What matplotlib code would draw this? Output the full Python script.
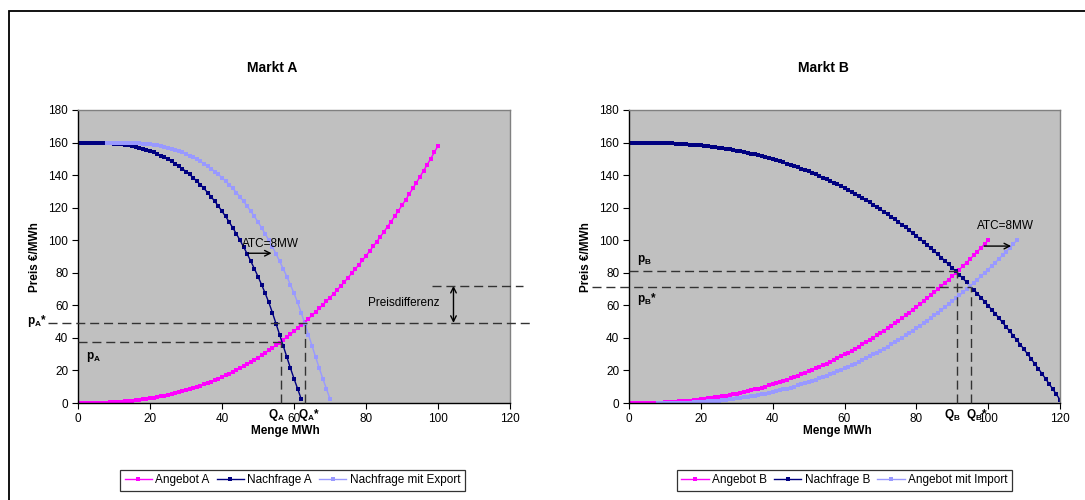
import matplotlib
matplotlib.use('Agg')
import matplotlib.pyplot as plt
from matplotlib.patches import Rectangle
import numpy as np

plt.rcParams['font.family'] = 'Liberation Sans'
plt.rcParams['mathtext.fontset'] = 'custom'
plt.rcParams['mathtext.rm'] = 'Liberation Sans'
plt.rcParams['mathtext.bf'] = 'Liberation Sans:bold'

# Market A: supply / demand (Menge MWh in steps of 1)
supply_a = [0.0, 0.0, 0.0, 0.0, 0.1, 0.1, 0.1, 0.2, 0.3, 0.4,
            0.5, 0.6, 0.8, 1.0, 1.2, 1.4, 1.6, 1.9, 2.2, 2.5,
            2.8, 3.2, 3.6, 4.0, 4.5, 4.9, 5.4, 6.0, 6.6, 7.2,
            7.8, 8.5, 9.2, 9.9, 10.7, 11.5, 12.3, 13.2, 14.1, 15.0,
            16.0, 17.0, 18.1, 19.2, 20.3, 21.5, 22.7, 23.9, 25.2, 26.6,
            27.9, 29.3, 30.8, 32.3, 33.9, 35.4, 37.1, 38.8, 40.5, 42.2,
            44.1, 45.9, 47.8, 49.8, 51.8, 53.8, 55.9, 58.1, 60.2, 62.5,
            64.8, 67.1, 69.5, 71.9, 74.4, 77.0, 79.6, 82.2, 84.9, 87.6,
            90.4, 93.3, 96.2, 99.2, 102.2, 105.2, 108.4, 111.5, 114.8, 118.1,
            121.4, 124.8, 128.3, 131.8, 135.4, 139.0, 142.7, 146.4, 150.2, 154.1,
            158.0]
demand_a = [160.0, 160.0, 160.0, 160.0, 160.0, 159.9, 159.9, 159.8, 159.7, 159.5,
            159.3, 159.1, 158.9, 158.6, 158.2, 157.8, 157.3, 156.8, 156.2, 155.5,
            154.7, 153.9, 153.0, 152.0, 150.9, 149.7, 148.4, 147.0, 145.5, 143.9,
            142.2, 140.4, 138.4, 136.3, 134.1, 131.8, 129.3, 126.6, 123.9, 120.9,
            117.8, 114.6, 111.2, 107.6, 103.9, 100.0, 95.9, 91.6, 87.1, 82.5,
            77.7, 72.7, 67.4, 61.8, 55.5, 48.8, 42.0, 35.2, 28.3, 21.5,
            15.0, 8.8, 2.5]

# Market B
supply_b = [0.0, 0.0, 0.0, 0.0, 0.1, 0.1, 0.1, 0.2, 0.3, 0.3,
            0.4, 0.5, 0.7, 0.8, 1.0, 1.1, 1.3, 1.5, 1.7, 2.0,
            2.2, 2.5, 2.8, 3.1, 3.4, 3.8, 4.1, 4.5, 4.9, 5.4,
            5.8, 6.3, 6.7, 7.3, 7.8, 8.3, 8.9, 9.5, 10.1, 10.8,
            11.4, 12.1, 12.8, 13.5, 14.3, 15.1, 15.9, 16.7, 17.6, 18.4,
            19.4, 20.3, 21.2, 22.2, 23.2, 24.2, 25.3, 26.4, 27.5, 28.6,
            29.8, 31.0, 32.2, 33.4, 34.7, 36.0, 37.3, 38.7, 40.1, 41.5,
            42.9, 44.4, 45.9, 47.4, 48.9, 50.5, 52.1, 53.8, 55.5, 57.2,
            58.9, 60.6, 62.4, 64.3, 66.1, 68.0, 69.9, 71.9, 73.8, 75.8,
            77.9, 79.9, 82.0, 84.2, 86.3, 88.5, 90.8, 93.0, 95.3, 97.6,
            100.0]
demand_b = [160.0, 160.0, 160.0, 160.0, 160.0, 159.9, 159.9, 159.9, 159.8, 159.8,
            159.7, 159.6, 159.5, 159.4, 159.3, 159.1, 159.0, 158.8, 158.6, 158.4,
            158.2, 158.0, 157.7, 157.5, 157.2, 156.9, 156.5, 156.2, 155.8, 155.5,
            155.1, 154.6, 154.2, 153.7, 153.2, 152.7, 152.2, 151.7, 151.1, 150.5,
            149.9, 149.2, 148.6, 147.9, 147.1, 146.4, 145.6, 144.8, 144.0, 143.2,
            142.3, 141.4, 140.5, 139.5, 138.5, 137.5, 136.5, 135.4, 134.3, 133.2,
            132.1, 130.9, 129.7, 128.4, 127.2, 125.9, 124.6, 123.2, 121.8, 120.4,
            118.9, 117.5, 115.9, 114.4, 112.8, 111.2, 109.6, 107.9, 106.2, 104.4,
            102.7, 100.9, 99.0, 97.1, 95.2, 93.3, 91.3, 89.3, 87.2, 85.2,
            83.0, 80.9, 78.7, 76.5, 74.2, 71.9, 69.6, 67.2, 64.8, 62.3,
            59.8, 57.3, 54.8, 52.2, 49.5, 46.8, 44.1, 41.4, 38.6, 35.8,
            32.9, 30.0, 27.0, 24.0, 21.0, 18.0, 14.8, 11.7, 8.5, 5.3,
            2.0]

atc = 8  # MW transfer capacity, shifts the curves

# equilibrium points (Q, p) before / after coupling
q_a, p_a = 56.5, 37.6
q_a_star, p_a_star = 63.0, 49.2
q_b, p_b = 91.2, 81.0
q_b_star, p_b_star = 95.3, 71.3
preis_oben = 72.0

x_supply_a = np.arange(len(supply_a))
x_demand_a = np.arange(len(demand_a))
x_supply_b = np.arange(len(supply_b))
x_demand_b = np.arange(len(demand_b))

MAGENTA = '#FF00FF'
NAVY = '#000080'
LIGHT = '#9999FF'
DASH = '#333333'

W, H = 1085, 500
fig = plt.figure(figsize=(W / 100, H / 100), dpi=100)

# outer chart frame
fig.patches.append(Rectangle((8.5 / W, -0.1), 2, 1 - 11 / H + 0.1,
                             transform=fig.transFigure, fill=False,
                             edgecolor='black', linewidth=1.3))

ax1 = fig.add_axes([78 / W, 1 - 403 / H, 432 / W, 293 / H])
ax2 = fig.add_axes([629 / W, 1 - 403 / H, 431 / W, 293 / H])

line_kw = dict(marker='s', markersize=3.0, linewidth=1.0, markeredgewidth=0)

ax1.plot(x_supply_a, supply_a, color=MAGENTA, label='Angebot A', **line_kw)
ax1.plot(x_demand_a, demand_a, color=NAVY, label='Nachfrage A', **line_kw)
ax1.plot(x_demand_a + atc, demand_a, color=LIGHT, label='Nachfrage mit Export', **line_kw)

ax2.plot(x_supply_b, supply_b, color=MAGENTA, label='Angebot B', **line_kw)
ax2.plot(x_demand_b, demand_b, color=NAVY, label='Nachfrage B', **line_kw)
ax2.plot(x_supply_b + atc, supply_b, color=LIGHT, label='Angebot mit Import', **line_kw)

for ax in (ax1, ax2):
    ax.set_facecolor('#C0C0C0')
    ax.set_xlim(0, 120)
    ax.set_ylim(0, 180)
    ax.set_xticks(range(0, 121, 20))
    ax.set_yticks(range(0, 181, 20))
    ax.tick_params(direction='out', length=4, width=0.8, labelsize=8.5, pad=3)
    for s in ('left', 'bottom'):
        ax.spines[s].set_color('black')
        ax.spines[s].set_linewidth(1.0)
    for s in ('top', 'right'):
        ax.spines[s].set_color('#808080')
        ax.spines[s].set_linewidth(1.0)

dash_kw = dict(color=DASH, linewidth=1.0, linestyle=(0, (6.5, 3.5)), clip_on=False, zorder=5)
lab_kw = dict(fontsize=8.5, fontweight='bold', clip_on=False)

# Market A annotations
ax1.plot([0, q_a], [p_a, p_a], **dash_kw)
ax1.plot([q_a, q_a], [0, p_a], **dash_kw)
ax1.plot([-8.2, 126.2], [p_a_star, p_a_star], **dash_kw)
ax1.plot([q_a_star, q_a_star], [0, p_a_star], **dash_kw)
ax1.plot([98.3, 123.6], [preis_oben, preis_oben], **dash_kw)
ax1.annotate('', xy=(104.3, p_a_star), xytext=(104.3, preis_oben),
             arrowprops=dict(arrowstyle='<->', color='black', lw=1.0,
                             shrinkA=0, shrinkB=0))
ax1.text(80.6, 61.4, 'Preisdifferenz', fontsize=8.5, va='center', ha='left')
ax1.text(45.6, 97.5, 'ATC=8MW', fontsize=8.5, va='center', ha='left')
ax1.annotate('', xy=(53.8, 92), xytext=(47.3, 92),
             arrowprops=dict(arrowstyle='->', color='black', lw=1.0,
                             shrinkA=0, shrinkB=0))
ax1.text(-8.6, p_a_star + 1, r'p$_\mathbf{A}$*', ha='right', va='center', **lab_kw)
ax1.text(2.3, 28.3, r'p$_\mathbf{A}$', ha='left', va='center', **lab_kw)
ax1.text(55.0, -2.2, r'Q$_\mathbf{A}$', ha='center', va='top', **lab_kw)
ax1.text(64.3, -2.2, r'Q$_\mathbf{A}$*', ha='center', va='top', **lab_kw)

# Market B annotations
ax2.plot([0, q_b], [p_b, p_b], **dash_kw)
ax2.plot([q_b, q_b], [0, p_b], **dash_kw)
ax2.plot([-10.3, q_b_star], [p_b_star, p_b_star], **dash_kw)
ax2.plot([q_b_star, q_b_star], [0, p_b_star], **dash_kw)
ax2.text(96.9, 108.7, 'ATC=8MW', fontsize=8.5, va='center', ha='left')
ax2.annotate('', xy=(106.4, 96.4), xytext=(98.9, 96.4),
             arrowprops=dict(arrowstyle='->', color='black', lw=1.0,
                             shrinkA=0, shrinkB=0))
ax2.text(2.3, 88.0, r'p$_\mathbf{B}$', ha='left', va='center', **lab_kw)
ax2.text(2.3, 64.0, r'p$_\mathbf{B}$*', ha='left', va='center', **lab_kw)
ax2.text(89.9, -2.2, r'Q$_\mathbf{B}$', ha='center', va='top', **lab_kw)
ax2.text(97.0, -2.2, r'Q$_\mathbf{B}$*', ha='center', va='top', **lab_kw)

# titles and axis titles
fig.text(272 / W, 1 - 68 / H, 'Markt A', fontsize=10, fontweight='bold', ha='center', va='center')
fig.text(823 / W, 1 - 68 / H, 'Markt B', fontsize=10, fontweight='bold', ha='center', va='center')
fig.text(285 / W, 1 - 431 / H, 'Menge MWh', fontsize=8.5, fontweight='bold', ha='center', va='center')
fig.text(837 / W, 1 - 431 / H, 'Menge MWh', fontsize=8.5, fontweight='bold', ha='center', va='center')
fig.text(35 / W, 1 - 257 / H, 'Preis €/MWh', fontsize=8.5, fontweight='bold',
         rotation=90, ha='center', va='center')
fig.text(586 / W, 1 - 257 / H, 'Preis €/MWh', fontsize=8.5, fontweight='bold',
         rotation=90, ha='center', va='center')

# legends
for ax, cx in ((ax1, 292.5), (ax2, 844.5)):
    h, l = ax.get_legend_handles_labels()
    leg = fig.legend(h, l, loc='center', bbox_to_anchor=(cx / W, 1 - 480.5 / H),
                     ncol=3, fontsize=8.5, frameon=True, fancybox=False,
                     edgecolor='black', handlelength=2.3, handletextpad=0.3,
                     columnspacing=0.6, borderpad=0.35, markerscale=1.0)
    leg.get_frame().set_linewidth(0.9)

fig.savefig('out.png', dpi=100, facecolor='white')
